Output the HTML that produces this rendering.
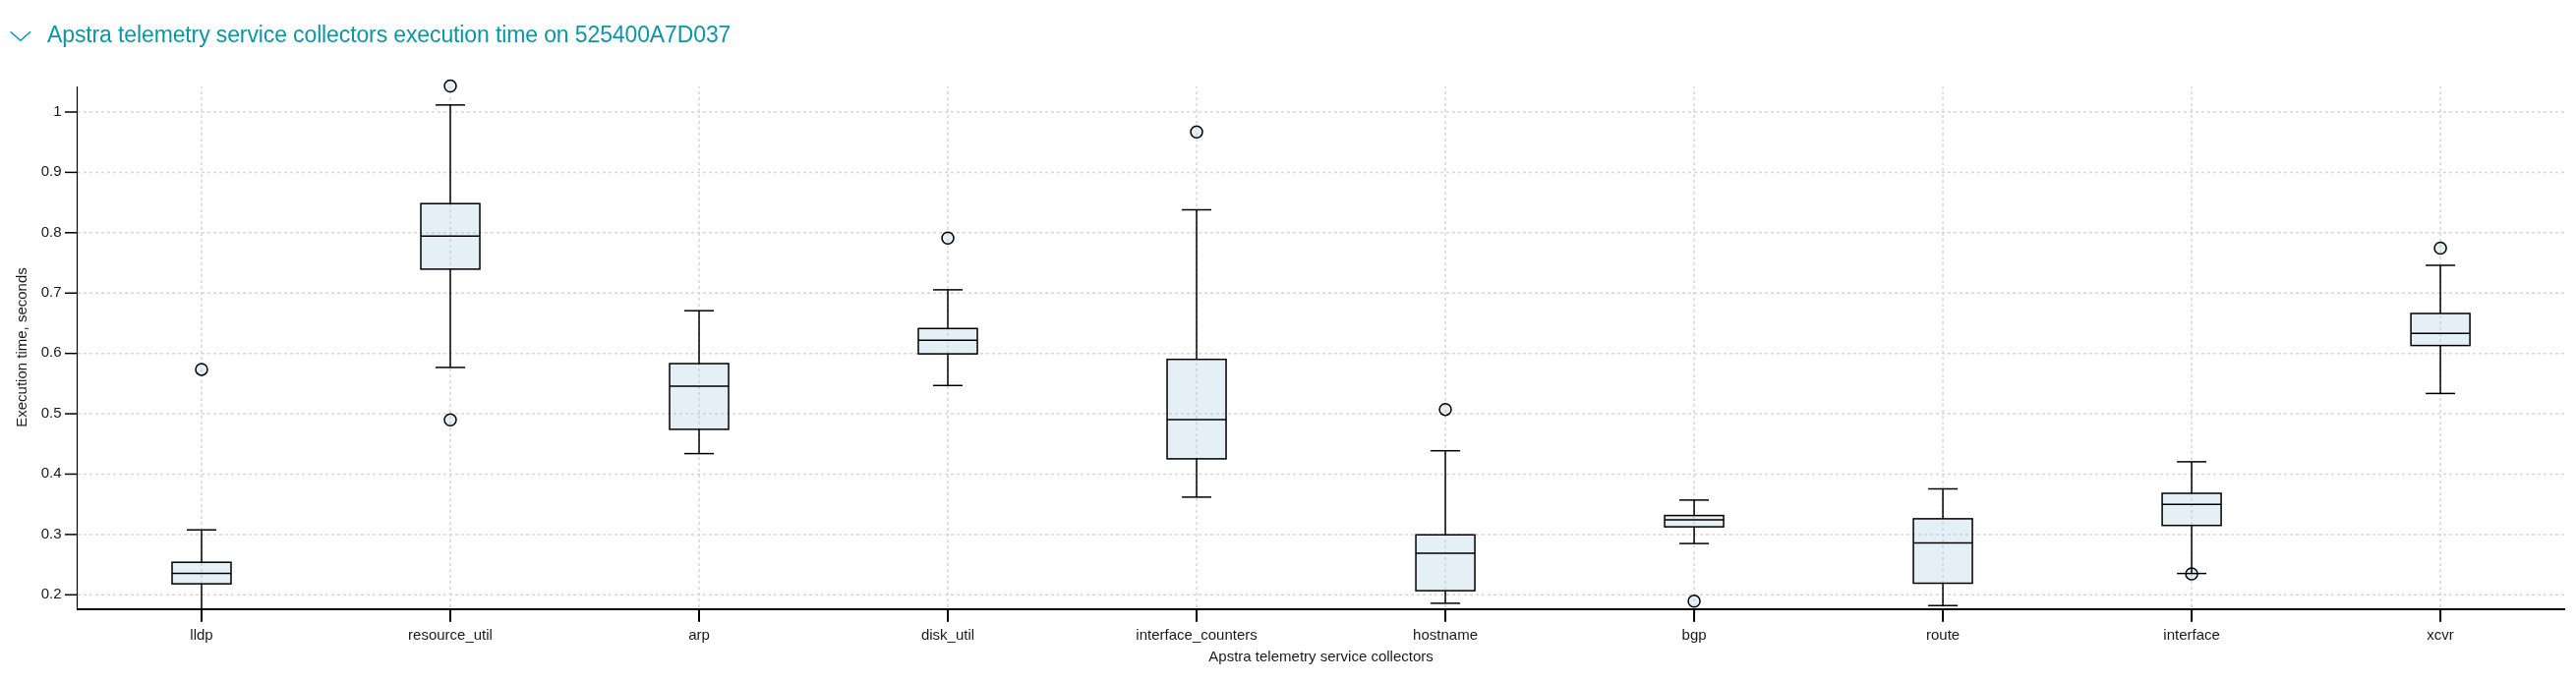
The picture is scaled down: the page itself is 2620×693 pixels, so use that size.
<!DOCTYPE html>
<html><head><meta charset="utf-8"><style>
html,body{margin:0;padding:0;background:#fff;width:2620px;height:693px;overflow:hidden;position:relative;font-family:"Liberation Sans",sans-serif;}
</style></head><body>
<svg width="2620" height="693" viewBox="0 0 2620 693" style="position:absolute;left:0;top:0;will-change:transform"><polyline points="10.6,32.2 20.9,41.3 31.1,32.2" fill="none" stroke="#0d96a4" stroke-width="1.5"/><text x="48" y="43" font-family="Liberation Sans" font-size="23" letter-spacing="-0.12" fill="#0d96a4">Apstra telemetry service collectors execution time on 525400A7D037</text><g stroke="#d6d6d6" stroke-width="1.5" stroke-dasharray="3,3"><line x1="79" y1="114.00" x2="2608" y2="114.00"/><line x1="79" y1="175.41" x2="2608" y2="175.41"/><line x1="79" y1="236.82" x2="2608" y2="236.82"/><line x1="79" y1="298.24" x2="2608" y2="298.24"/><line x1="79" y1="359.65" x2="2608" y2="359.65"/><line x1="79" y1="421.06" x2="2608" y2="421.06"/><line x1="79" y1="482.47" x2="2608" y2="482.47"/><line x1="79" y1="543.89" x2="2608" y2="543.89"/><line x1="79" y1="605.30" x2="2608" y2="605.30"/><line x1="205.00" y1="88" x2="205.00" y2="620" stroke-dashoffset="1"/><line x1="458.01" y1="88" x2="458.01" y2="620" stroke-dashoffset="1"/><line x1="711.02" y1="88" x2="711.02" y2="620" stroke-dashoffset="1"/><line x1="964.03" y1="88" x2="964.03" y2="620" stroke-dashoffset="1"/><line x1="1217.05" y1="88" x2="1217.05" y2="620" stroke-dashoffset="1"/><line x1="1470.05" y1="88" x2="1470.05" y2="620" stroke-dashoffset="1"/><line x1="1723.07" y1="88" x2="1723.07" y2="620" stroke-dashoffset="1"/><line x1="1976.07" y1="88" x2="1976.07" y2="620" stroke-dashoffset="1"/><line x1="2229.09" y1="88" x2="2229.09" y2="620" stroke-dashoffset="1"/><line x1="2482.09" y1="88" x2="2482.09" y2="620" stroke-dashoffset="1"/></g><line x1="78.5" y1="88" x2="78.5" y2="620" stroke="#000" stroke-width="1.2"/><g font-family="Liberation Sans" font-size="15" fill="#1a1a1a"><line x1="66" y1="114.00" x2="78" y2="114.00" stroke="#000" stroke-width="1.5"/><text x="62.6" y="117.70" text-anchor="end">1</text><line x1="66" y1="175.41" x2="78" y2="175.41" stroke="#000" stroke-width="1.5"/><text x="62.6" y="179.11" text-anchor="end">0.9</text><line x1="66" y1="236.82" x2="78" y2="236.82" stroke="#000" stroke-width="1.5"/><text x="62.6" y="240.52" text-anchor="end">0.8</text><line x1="66" y1="298.24" x2="78" y2="298.24" stroke="#000" stroke-width="1.5"/><text x="62.6" y="301.94" text-anchor="end">0.7</text><line x1="66" y1="359.65" x2="78" y2="359.65" stroke="#000" stroke-width="1.5"/><text x="62.6" y="363.35" text-anchor="end">0.6</text><line x1="66" y1="421.06" x2="78" y2="421.06" stroke="#000" stroke-width="1.5"/><text x="62.6" y="424.76" text-anchor="end">0.5</text><line x1="66" y1="482.47" x2="78" y2="482.47" stroke="#000" stroke-width="1.5"/><text x="62.6" y="486.17" text-anchor="end">0.4</text><line x1="66" y1="543.89" x2="78" y2="543.89" stroke="#000" stroke-width="1.5"/><text x="62.6" y="547.59" text-anchor="end">0.3</text><line x1="66" y1="605.30" x2="78" y2="605.30" stroke="#000" stroke-width="1.5"/><text x="62.6" y="609.00" text-anchor="end">0.2</text></g><line x1="78" y1="620" x2="2609" y2="620" stroke="#000" stroke-width="2"/><g font-family="Liberation Sans" font-size="15" fill="#1a1a1a"><line x1="205.00" y1="620" x2="205.00" y2="632.8" stroke="#000" stroke-width="2"/><text x="205.00" y="650.8" text-anchor="middle">lldp</text><line x1="458.01" y1="620" x2="458.01" y2="632.8" stroke="#000" stroke-width="2"/><text x="458.01" y="650.8" text-anchor="middle">resource_util</text><line x1="711.02" y1="620" x2="711.02" y2="632.8" stroke="#000" stroke-width="2"/><text x="711.02" y="650.8" text-anchor="middle">arp</text><line x1="964.03" y1="620" x2="964.03" y2="632.8" stroke="#000" stroke-width="2"/><text x="964.03" y="650.8" text-anchor="middle">disk_util</text><line x1="1217.05" y1="620" x2="1217.05" y2="632.8" stroke="#000" stroke-width="2"/><text x="1217.05" y="650.8" text-anchor="middle">interface_counters</text><line x1="1470.05" y1="620" x2="1470.05" y2="632.8" stroke="#000" stroke-width="2"/><text x="1470.05" y="650.8" text-anchor="middle">hostname</text><line x1="1723.07" y1="620" x2="1723.07" y2="632.8" stroke="#000" stroke-width="2"/><text x="1723.07" y="650.8" text-anchor="middle">bgp</text><line x1="1976.07" y1="620" x2="1976.07" y2="632.8" stroke="#000" stroke-width="2"/><text x="1976.07" y="650.8" text-anchor="middle">route</text><line x1="2229.09" y1="620" x2="2229.09" y2="632.8" stroke="#000" stroke-width="2"/><text x="2229.09" y="650.8" text-anchor="middle">interface</text><line x1="2482.09" y1="620" x2="2482.09" y2="632.8" stroke="#000" stroke-width="2"/><text x="2482.09" y="650.8" text-anchor="middle">xcvr</text><text x="1343.55" y="673" text-anchor="middle">Apstra telemetry service collectors</text><text transform="translate(26.8,353.5) rotate(-90)" text-anchor="middle">Execution time, seconds</text></g><g stroke="#000" stroke-width="1.5"><circle cx="205.00" cy="375.9" r="6" fill="rgba(165,205,225,0.3)" stroke="#000" stroke-width="1.5"/><line x1="205.00" y1="539.2" x2="205.00" y2="572.2"/><line x1="205.00" y1="594.1" x2="205.00" y2="620"/><line x1="190.00" y1="539.2" x2="220.00" y2="539.2"/><rect x="175.00" y="572.2" width="60" height="21.90" fill="rgba(165,205,225,0.3)"/><line x1="175.00" y1="583.5" x2="235.00" y2="583.5"/><circle cx="458.01" cy="87.55" r="6" fill="rgba(165,205,225,0.3)" stroke="#000" stroke-width="1.5"/><circle cx="458.01" cy="427.2" r="6" fill="rgba(165,205,225,0.3)" stroke="#000" stroke-width="1.5"/><line x1="458.01" y1="106.85" x2="458.01" y2="207.2"/><line x1="458.01" y1="273.9" x2="458.01" y2="373.9"/><line x1="443.01" y1="106.85" x2="473.01" y2="106.85"/><line x1="443.01" y1="373.9" x2="473.01" y2="373.9"/><rect x="428.01" y="207.2" width="60" height="66.70" fill="rgba(165,205,225,0.3)"/><line x1="428.01" y1="240.3" x2="488.01" y2="240.3"/><line x1="711.02" y1="316.2" x2="711.02" y2="370.0"/><line x1="711.02" y1="436.9" x2="711.02" y2="461.6"/><line x1="696.02" y1="316.2" x2="726.02" y2="316.2"/><line x1="696.02" y1="461.6" x2="726.02" y2="461.6"/><rect x="681.02" y="370.0" width="60" height="66.90" fill="rgba(165,205,225,0.3)"/><line x1="681.02" y1="393.0" x2="741.02" y2="393.0"/><circle cx="964.03" cy="242.3" r="6" fill="rgba(165,205,225,0.3)" stroke="#000" stroke-width="1.5"/><line x1="964.03" y1="294.9" x2="964.03" y2="334.3"/><line x1="964.03" y1="360.1" x2="964.03" y2="392.3"/><line x1="949.03" y1="294.9" x2="979.03" y2="294.9"/><line x1="949.03" y1="392.3" x2="979.03" y2="392.3"/><rect x="934.03" y="334.3" width="60" height="25.80" fill="rgba(165,205,225,0.3)"/><line x1="934.03" y1="346.3" x2="994.03" y2="346.3"/><circle cx="1217.05" cy="134.2" r="6" fill="rgba(165,205,225,0.3)" stroke="#000" stroke-width="1.5"/><line x1="1217.05" y1="213.5" x2="1217.05" y2="365.7"/><line x1="1217.05" y1="466.9" x2="1217.05" y2="505.9"/><line x1="1202.05" y1="213.5" x2="1232.05" y2="213.5"/><line x1="1202.05" y1="505.9" x2="1232.05" y2="505.9"/><rect x="1187.05" y="365.7" width="60" height="101.20" fill="rgba(165,205,225,0.3)"/><line x1="1187.05" y1="427.0" x2="1247.05" y2="427.0"/><circle cx="1470.05" cy="416.65" r="6" fill="rgba(165,205,225,0.3)" stroke="#000" stroke-width="1.5"/><line x1="1470.05" y1="458.7" x2="1470.05" y2="544.25"/><line x1="1470.05" y1="601.1" x2="1470.05" y2="613.9"/><line x1="1455.05" y1="458.7" x2="1485.05" y2="458.7"/><line x1="1455.05" y1="613.9" x2="1485.05" y2="613.9"/><rect x="1440.05" y="544.25" width="60" height="56.85" fill="rgba(165,205,225,0.3)"/><line x1="1440.05" y1="562.9" x2="1500.05" y2="562.9"/><circle cx="1723.07" cy="611.8" r="6" fill="rgba(165,205,225,0.3)" stroke="#000" stroke-width="1.5"/><line x1="1723.07" y1="508.9" x2="1723.07" y2="524.6"/><line x1="1723.07" y1="536.1" x2="1723.07" y2="553.1"/><line x1="1708.07" y1="508.9" x2="1738.07" y2="508.9"/><line x1="1708.07" y1="553.1" x2="1738.07" y2="553.1"/><rect x="1693.07" y="524.6" width="60" height="11.50" fill="rgba(165,205,225,0.3)"/><line x1="1693.07" y1="529.0" x2="1753.07" y2="529.0"/><line x1="1976.07" y1="497.5" x2="1976.07" y2="527.9"/><line x1="1976.07" y1="593.5" x2="1976.07" y2="616.25"/><line x1="1961.07" y1="497.5" x2="1991.07" y2="497.5"/><line x1="1961.07" y1="616.25" x2="1991.07" y2="616.25"/><rect x="1946.07" y="527.9" width="60" height="65.60" fill="rgba(165,205,225,0.3)"/><line x1="1946.07" y1="552.5" x2="2006.07" y2="552.5"/><circle cx="2229.09" cy="584.0" r="6" fill="rgba(165,205,225,0.3)" stroke="#000" stroke-width="1.5"/><line x1="2229.09" y1="469.9" x2="2229.09" y2="502.0"/><line x1="2229.09" y1="534.7" x2="2229.09" y2="583.6"/><line x1="2214.09" y1="469.9" x2="2244.09" y2="469.9"/><line x1="2214.09" y1="583.6" x2="2244.09" y2="583.6"/><rect x="2199.09" y="502.0" width="60" height="32.70" fill="rgba(165,205,225,0.3)"/><line x1="2199.09" y1="513.3" x2="2259.09" y2="513.3"/><circle cx="2482.09" cy="252.55" r="6" fill="rgba(165,205,225,0.3)" stroke="#000" stroke-width="1.5"/><line x1="2482.09" y1="270.0" x2="2482.09" y2="319.0"/><line x1="2482.09" y1="351.6" x2="2482.09" y2="400.4"/><line x1="2467.09" y1="270.0" x2="2497.09" y2="270.0"/><line x1="2467.09" y1="400.4" x2="2497.09" y2="400.4"/><rect x="2452.09" y="319.0" width="60" height="32.60" fill="rgba(165,205,225,0.3)"/><line x1="2452.09" y1="339.3" x2="2512.09" y2="339.3"/></g></svg>
</body></html>
